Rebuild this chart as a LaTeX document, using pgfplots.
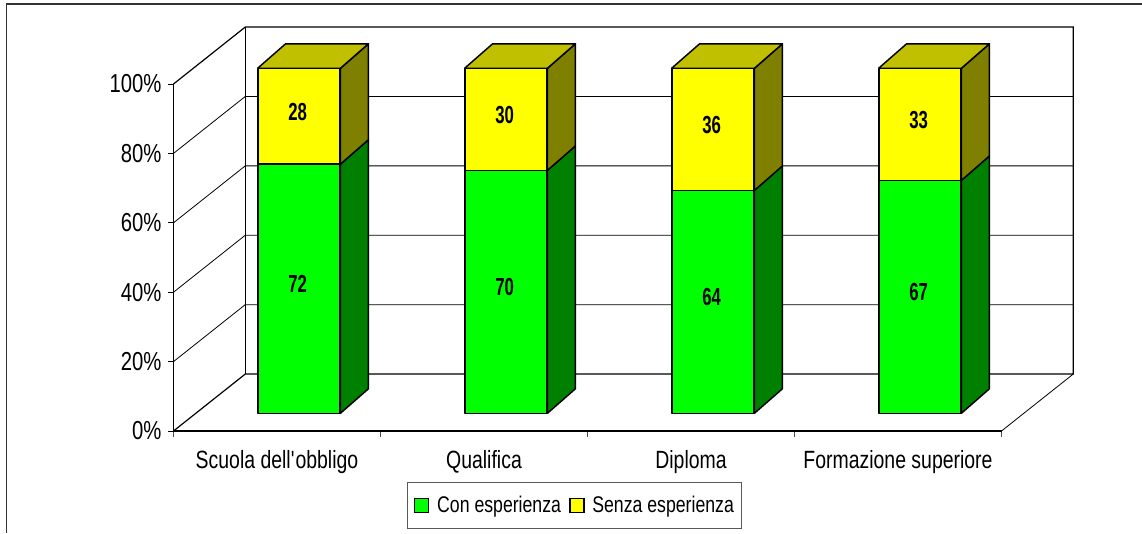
\documentclass[border=0pt]{standalone}
\usepackage{fontspec}
\setmainfont[FakeStretch=0.78]{Liberation Sans}
\newfontfamily\labelfont[FakeStretch=0.68]{Liberation Sans}
\usepackage{pgfplots}
\usepackage{pgfplotstable}
\pgfplotsset{compat=1.18}

\definecolor{frontgreen}{HTML}{00FF00}
\definecolor{sidegreen}{HTML}{008000}
\definecolor{frontyellow}{HTML}{FFFF00}
\definecolor{sideyellow}{HTML}{808000}
\definecolor{topyellow}{HTML}{C0C000}

% heights as drawn, printed labels beside them
\pgfplotstableread{
x con lab
0.5 72.2 72
1.5 70.4 70
2.5 64.6 64
3.5 67.5 67
}\conesp
\pgfplotstableread{
x senza lab
0.5 27.8 28
1.5 29.6 30
2.5 35.4 36
3.5 32.5 33
}\senzaesp

% 1px = 0.75pt
\pgfplotsset{
  barplane/.style={
    at={(16.5pt,13.275pt)},
    scale only axis, width=621pt, height=258.75pt,
    xmin=0, xmax=4, ymin=0, ymax=100,
    clip=false,
    hide axis,
  },
  face/.style={draw=black,line width=1.1pt,line join=round,fill=#1},
  swatch/.style={legend image code/.code={
    \path[draw=none] (0pt,0pt) -- (16pt,0pt);
    \draw[fill=#1,draw=black,line width=0.9pt] (1.2pt,-5.2pt) rectangle (11.7pt,5.2pt);
  }},
}

\begin{document}
\begin{tikzpicture}
\path[use as bounding box] (-130.125pt,-76.5pt) rectangle (726.375pt,323.25pt);
\draw[draw=black!80,line width=1.1pt] (-125.25pt,-76.5pt) -- (-125.25pt,320.25pt) -- (726.375pt,320.25pt);

% walls, floor, grid
\begin{axis}[
  scale only axis, width=621pt, height=260.25pt,
  xmin=0, xmax=4, ymin=0, ymax=100,
  clip=false,
  axis lines=left,
  axis line style={-,line width=0.8pt},
  tick align=outside,
  ytick={0,20,40,60,80,100},
  yticklabel={\pgfmathprintnumber{\tick}\%},
  xtick={0.5,1.5,2.5,3.5},
  xticklabels={Scuola dell\textquotesingle obbligo,Qualifica,Diploma,Formazione superiore},
  minor xtick={0,1,2,3,4},
  major tick length=4pt,
  minor tick length=4.5pt,
  xtick style={draw=none},
  minor x tick style={draw=black!70,line width=0.8pt},
  ytick style={draw=black,line width=0.6pt},
  /pgf/number format/assume math mode=true,
  xticklabel style={font=\fontsize{18.7}{20}\selectfont,yshift=-7pt},
  yticklabel style={font=\fontsize{19.5}{20}\selectfont,xshift=-1.5pt},
  legend columns=2,
  legend cell align=left,
  legend style={
    at={(0.2824,-0.1461)}, anchor=north west,
    draw=black!65, line width=0.8pt, fill=white,
    font=\fontsize{17}{20}\selectfont,
    inner xsep=4pt, inner ysep=8.4pt,
    /tikz/every even column/.style={column sep=3.5pt},
  },
]
\addplot[forget plot,black,line width=0.6pt] coordinates {(0,20) (0.3464,36.4) (4.3464,36.4)};
\addplot[forget plot,black,line width=0.6pt] coordinates {(0,40) (0.3464,56.4) (4.3464,56.4)};
\addplot[forget plot,black,line width=0.6pt] coordinates {(0,60) (0.3464,76.4) (4.3464,76.4)};
\addplot[forget plot,black,line width=0.6pt] coordinates {(0,80) (0.3464,96.4) (4.3464,96.4)};
\addplot[forget plot,black,line width=0.9pt] coordinates {(0,100) (0.3464,116.4) (4.3464,116.4) (4.3464,16.4) (0.3464,16.4) (0,0)};
\addplot[forget plot,black,line width=0.6pt] coordinates {(0.3464,16.4) (0.3464,116.4)};
\addplot[forget plot,black,line width=0.6pt] coordinates {(4,0) (4.3464,16.4)};
\addlegendimage{swatch=frontgreen}
\addlegendentry{Con esperienza}
\addlegendimage{swatch=frontyellow}
\addlegendentry{Senza esperienza}
\end{axis}

% side and top faces: depth is 28px right, 24.5px up
\begin{axis}[barplane]
\addplot[face=sidegreen] coordinates {(0.7,0) (0.8353,7.1) (0.8353,79.3) (0.7,72.2) (0.7,0)};
\addplot[face=sideyellow] coordinates {(0.7,72.2) (0.8353,79.3) (0.8353,107.1) (0.7,100) (0.7,72.2)};
\addplot[face=topyellow] coordinates {(0.3,100) (0.4353,107.1) (0.8353,107.1) (0.7,100) (0.3,100)};
\addplot[face=sidegreen] coordinates {(1.7,0) (1.8353,7.1) (1.8353,77.5) (1.7,70.4) (1.7,0)};
\addplot[face=sideyellow] coordinates {(1.7,70.4) (1.8353,77.5) (1.8353,107.1) (1.7,100) (1.7,70.4)};
\addplot[face=topyellow] coordinates {(1.3,100) (1.4353,107.1) (1.8353,107.1) (1.7,100) (1.3,100)};
\addplot[face=sidegreen] coordinates {(2.7,0) (2.8353,7.1) (2.8353,71.7) (2.7,64.6) (2.7,0)};
\addplot[face=sideyellow] coordinates {(2.7,64.6) (2.8353,71.7) (2.8353,107.1) (2.7,100) (2.7,64.6)};
\addplot[face=topyellow] coordinates {(2.3,100) (2.4353,107.1) (2.8353,107.1) (2.7,100) (2.3,100)};
\addplot[face=sidegreen] coordinates {(3.7,0) (3.8353,7.1) (3.8353,74.6) (3.7,67.5) (3.7,0)};
\addplot[face=sideyellow] coordinates {(3.7,67.5) (3.8353,74.6) (3.8353,107.1) (3.7,100) (3.7,67.5)};
\addplot[face=topyellow] coordinates {(3.3,100) (3.4353,107.1) (3.8353,107.1) (3.7,100) (3.3,100)};
\end{axis}

% front faces
\begin{axis}[
  barplane,
  ybar stacked,
  bar width=61.5pt,
  point meta=explicit symbolic,
  nodes near coords,
  every node near coord/.append style={font=\labelfont\bfseries\fontsize{18.5}{20}\selectfont,text=black,yshift=3.5pt,xshift=-1pt},
]
\addplot[face=frontgreen] table[x=x,y=con,meta=lab] {\conesp};
\addplot[face=frontyellow] table[x=x,y=senza,meta=lab] {\senzaesp};
\end{axis}
\end{tikzpicture}
\end{document}
